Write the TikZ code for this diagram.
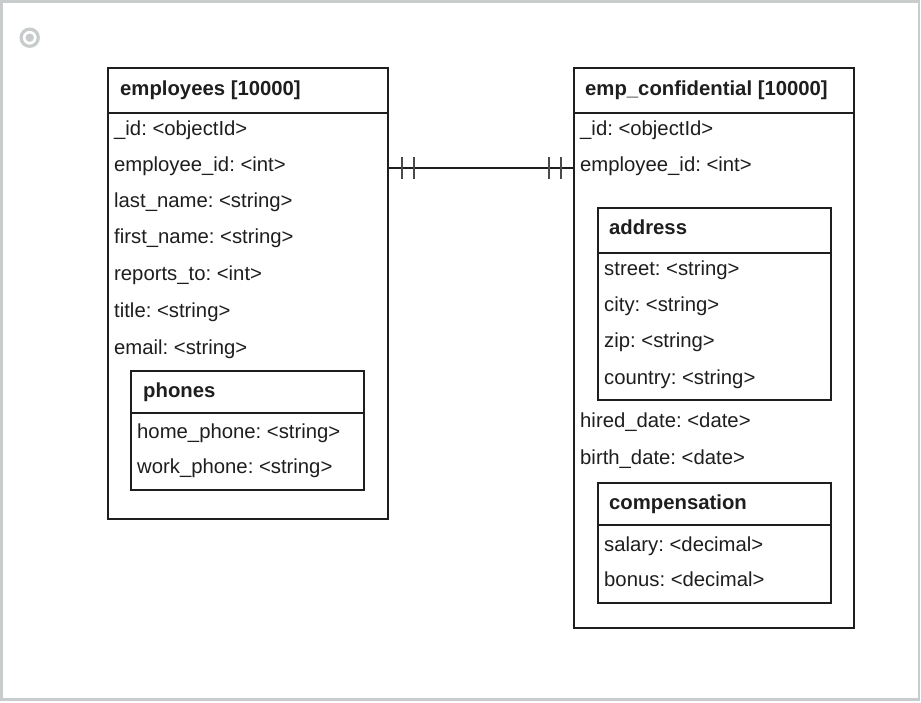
\documentclass[tikz,border=0pt]{standalone}
\usepackage{fontspec}
\setmainfont{Liberation Sans}
\usetikzlibrary{calc}
\definecolor{ink}{HTML}{1E1E1E}
\definecolor{framegray}{HTML}{C8CCCC}
\definecolor{tickgray}{HTML}{4A4A4A}
\frenchspacing

\begin{document}
\begin{tikzpicture}[x=1pt,y=-1pt,
  entity/.style={draw=ink, line width=2pt, fill=white, anchor=north west, inner sep=0pt},
  subentity/.style={draw=ink, line width=1.6pt, fill=white, anchor=north west, inner sep=0pt},
  divider/.style={draw=ink, line width=2pt},
  subdivider/.style={draw=ink, line width=1.4pt},
  field/.style={anchor=west, inner sep=0pt, text=ink,
    font=\fontsize{20.3}{24}\selectfont, text height=14.6pt, text depth=4.3pt},
  heading/.style={field, font=\fontsize{20.3}{24}\selectfont\bfseries},
  link/.style={draw=ink, line width=1.4pt},
  bar/.style={draw=tickgray, line width=1.5pt},
]
\useasboundingbox (0,0) rectangle (921,702);
\fill[white] (0,0) rectangle (921,702);

% outer frame and corner marker
\draw[framegray, line width=2.5pt] (1.25,1.25) rectangle (918.75,699.5);
\draw[framegray, line width=3.2pt] (29.7,37.7) circle (8.6);
\fill[framegray] (29.7,37.7) circle (4.2);

% ---------------- employees ----------------
\node[entity, minimum width=280pt, minimum height=451pt] (emp) at (107,67) {};
\draw[divider] (emp.west |- 0,113) -- (emp.east |- 0,113);
\node[heading] (empTitle) at (120,90) {employees [10000]};
\foreach \y/\t [count=\i] in {130.5/\_id: <objectId>,
                              166.5/employee\_id: <int>,
                              202.5/last\_name: <string>,
                              238.5/first\_name: <string>,
                              275/reports\_to: <int>,
                              312/title: <string>,
                              349.5/email: <string>}
  \node[field] (empF\i) at (114,\y) {\t};

% phones (embedded)
\node[subentity, minimum width=233pt, minimum height=119pt] (phones) at (130,370) {};
\draw[subdivider] (phones.west |- 0,413) -- (phones.east |- 0,413);
\node[heading] (phonesTitle) at (143,392.5) {phones};
\node[field] (phF1) at (137,433.5) {home\_phone: <string>};
\node[field] (phF2) at (137,468.5) {work\_phone: <string>};

% ---------------- emp_confidential ----------------
\node[entity, minimum width=280pt, minimum height=560pt] (conf) at (573,67) {};
\draw[divider] (conf.west |- 0,113) -- (conf.east |- 0,113);
\node[heading] (confTitle) at (585,90) {emp\_confidential [10000]};
\node[field] (confF1) at (580,130.5) {\_id: <objectId>};
\node[field] (confF2) at (580,166.5) {employee\_id: <int>};

% address (embedded)
\node[subentity, minimum width=233pt, minimum height=192pt] (addr) at (597,207) {};
\draw[subdivider] (addr.west |- 0,253) -- (addr.east |- 0,253);
\node[heading] (addrTitle) at (609,229.5) {address};
\foreach \y/\t [count=\i] in {270.5/street: <string>,
                              306.5/city: <string>,
                              342.5/zip: <string>,
                              379.5/country: <string>}
  \node[field] (addrF\i) at (604,\y) {\t};

\node[field] (confF3) at (580,422.5) {hired\_date: <date>};
\node[field] (confF4) at (580,459.5) {birth\_date: <date>};

% compensation (embedded)
\node[subentity, minimum width=233pt, minimum height=120pt] (comp) at (597,482) {};
\draw[subdivider] (comp.west |- 0,525) -- (comp.east |- 0,525);
\node[heading] (compTitle) at (609,504.5) {compensation};
\node[field] (compF1) at (604,546.5) {salary: <decimal>};
\node[field] (compF2) at (604,581.5) {bonus: <decimal>};

% ---------------- one-to-one relationship ----------------
\coordinate (linkL) at (emp.east |- 0,168);
\coordinate (linkR) at (conf.west |- 0,168);
\draw[link] (linkL) -- (linkR);
\draw[bar] ($(linkL)+(13,-11)$) -- ($(linkL)+(13,11)$);
\draw[bar] ($(linkL)+(25,-11)$) -- ($(linkL)+(25,11)$);
\draw[bar] ($(linkR)+(-12,-11)$) -- ($(linkR)+(-12,11)$);
\draw[bar] ($(linkR)+(-24,-11)$) -- ($(linkR)+(-24,11)$);
\end{tikzpicture}
\end{document}
